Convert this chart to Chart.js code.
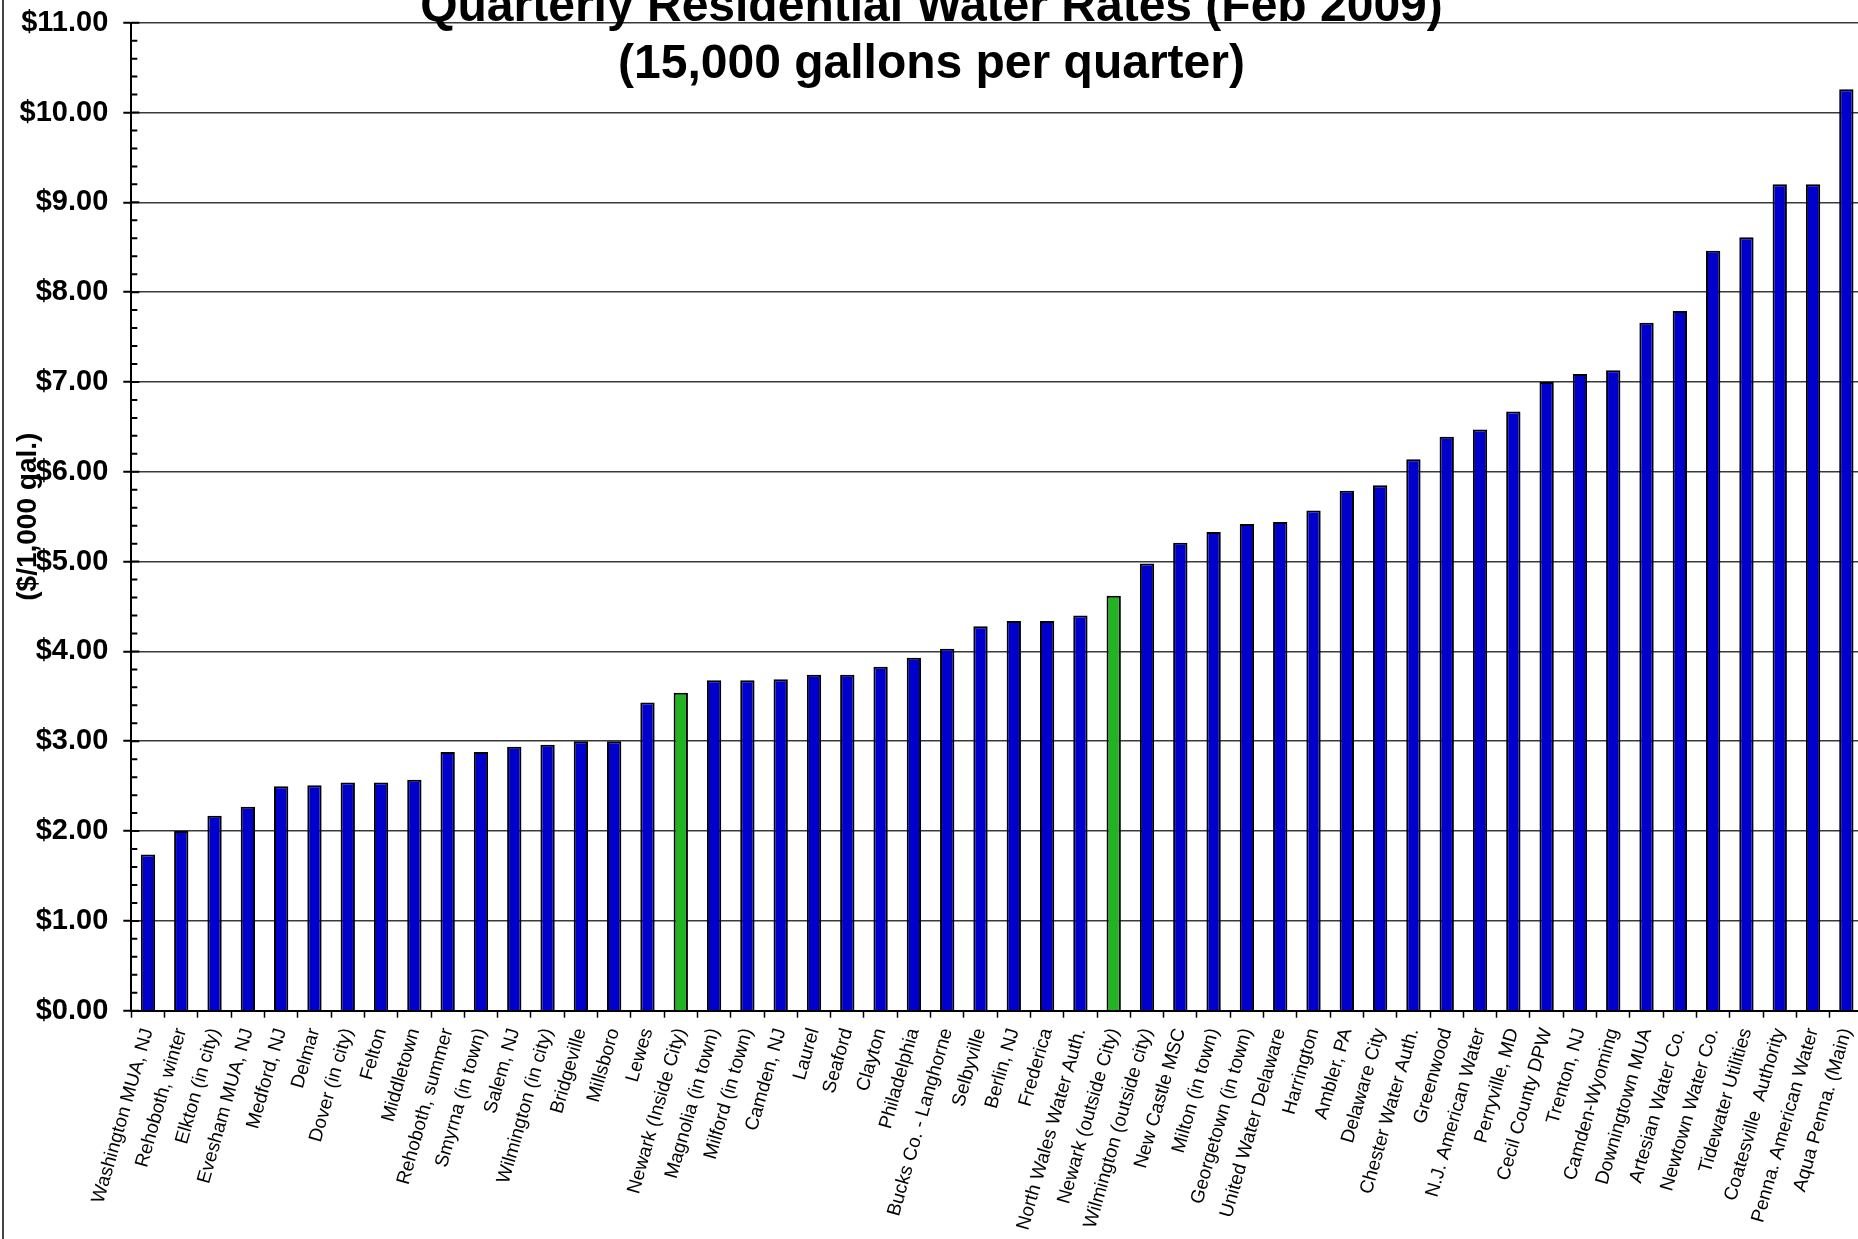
<!DOCTYPE html>
<html>
<head>
<meta charset="utf-8">
<script src="https://cdn.jsdelivr.net/npm/chart.js@4.4.1/dist/chart.umd.min.js"></script>
<style>
	html, body { margin: 0; padding: 0; background: #fff; overflow: hidden; }
	#wrap { position: relative; width: 1863px; height: 1239px; }
	#frame { position: absolute; left: 2px; top: 0; width: 2px; height: 1239px; background: #444; }
</style>
</head>
<body>
<div id="wrap">
	<canvas id="water_chart"></canvas>
	<div id="frame"></div>
</div>
<script>
const categories = [
	'Washington MUA, NJ', 'Rehoboth, winter', 'Elkton (in city)', 'Evesham MUA, NJ', 'Medford, NJ',
	'Delmar', 'Dover (in city)', 'Felton', 'Middletown', 'Rehoboth, summer',
	'Smyrna (in town)', 'Salem, NJ', 'Wilmington (in city)', 'Bridgeville', 'Millsboro',
	'Lewes', 'Newark (Inside City)', 'Magnolia (in town)', 'Milford (in town)', 'Camden, NJ',
	'Laurel', 'Seaford', 'Clayton', 'Philadelphia', 'Bucks Co. - Langhorne',
	'Selbyville', 'Berlin, NJ', 'Frederica', 'North Wales Water Auth.', 'Newark (outside City)',
	'Wilmington (outside city)', 'New Castle MSC', 'Milton (in town)', 'Georgetown (in town)', 'United Water Delaware',
	'Harrington', 'Ambler, PA', 'Delaware City', 'Chester Water Auth.', 'Greenwood',
	'N.J. American Water', 'Perryville, MD', 'Cecil County DPW', 'Trenton, NJ', 'Camden-Wyoming',
	'Downingtown MUA', 'Artesian Water Co.', 'Newtown Water Co.', 'Tidewater Utilities', 'Coatesville  Authority',
	'Penna. American Water', 'Aqua Penna. (Main)'
];

const rates = [
	1.74, 2.00, 2.17, 2.27, 2.50,
	2.51, 2.54, 2.54, 2.57, 2.88,
	2.88, 2.94, 2.96, 3.00, 3.00,
	3.43, 3.54, 3.68, 3.68, 3.69,
	3.74, 3.74, 3.83, 3.93, 4.03,
	4.28, 4.34, 4.34, 4.40, 4.62,
	4.98, 5.21, 5.33, 5.42, 5.44,
	5.57, 5.79, 5.85, 6.14, 6.39,
	6.47, 6.67, 7.00, 7.09, 7.13,
	7.66, 7.79, 8.46, 8.61, 9.20,
	9.20, 10.26
];

const highlighted = ['Newark (Inside City)', 'Newark (outside City)'];

const title_lines = ['Quarterly Residential Water Rates (Feb 2009)', '(15,000 gallons per quarter)'];
const axis_title = '($/1,000 gal.)';
const y_min = 0;
const y_max = 11;

const font_family = '"Liberation Sans", Arial, sans-serif';

// small ticks every $0.20 on the inner side of the y axis
const minor_ticks = {
	id: 'minor_ticks',
	afterDraw(chart) {
		const y = chart.scales.y;
		const area = chart.chartArea;
		const ctx = chart.ctx;
		ctx.save();
		ctx.strokeStyle = '#000';
		ctx.lineWidth = 2;
		ctx.beginPath();
		for (let i = y_min * 5; i <= y_max * 5; i++) {
			const py = y.getPixelForValue(i / 5);
			const len = i % 5 === 0 ? 8 : 6;
			ctx.moveTo(area.left, py);
			ctx.lineTo(area.left + len, py);
		}
		ctx.stroke();
		ctx.restore();
	}
};

const config = {
	type: 'bar',
	data: {
		labels: categories,
		datasets: [{
			data: rates,
			backgroundColor: categories.map(c => highlighted.includes(c) ? '#22B222' : '#0000CC'),
			borderColor: '#000',
			borderWidth: 2,
			barPercentage: 0.43,
			categoryPercentage: 1.0
		}]
	},
	options: {
		responsive: true,
		maintainAspectRatio: false,
		animation: false,
		layout: { padding: 0 },
		plugins: {
			legend: { display: false },
			tooltip: { enabled: false },
			title: {
				display: true,
				text: title_lines,
				color: '#000',
				font: { family: font_family, size: 48, weight: 'bold', lineHeight: 1.175 },
				padding: { top: -20.2, bottom: -69.9 }
			}
		},
		scales: {
			x: {
				ticks: {
					color: '#000',
					font: { family: font_family, size: 19 },
					minRotation: 74,
					maxRotation: 74,
					autoSkip: false,
					padding: 8
				},
				grid: {
					display: true,
					drawOnChartArea: false,
					drawTicks: true,
					tickLength: 7,
					tickColor: '#000',
					tickWidth: 1.5,
					offset: true
				},
				border: { display: true, color: '#000', width: 2 },
				afterFit(scale) {
					scale.height = 228.3;
					// plot runs right up to the picture edge
					scale.paddingLeft = 0;
					scale.paddingRight = 0;
				}
			},
			y: {
				min: y_min,
				max: y_max,
				ticks: {
					stepSize: 1,
					color: '#000',
					font: { family: font_family, size: 29, weight: 'bold' },
					padding: 15,
					callback: v => '$' + Number(v).toFixed(2)
				},
				grid: {
					color: '#3a3a3a',
					lineWidth: 1.5,
					drawTicks: true,
					tickLength: 8,
					tickColor: '#000',
					tickWidth: 2
				},
				border: { display: true, color: '#000', width: 2 },
				title: {
					display: true,
					text: axis_title,
					color: '#000',
					font: { family: font_family, size: 28, weight: 'bold', lineHeight: 1.2 },
					padding: { top: 11, bottom: 0 }
				},
				afterFit(scale) {
					scale.width = 131.3;
					// let the top label sit on the frame edge like the original
					scale.paddingTop = 0;
					scale.paddingBottom = 0;
				}
			}
		}
	},
	plugins: [minor_ticks]
};

new Chart(document.getElementById('water_chart'), config);
</script>
</body>
</html>
